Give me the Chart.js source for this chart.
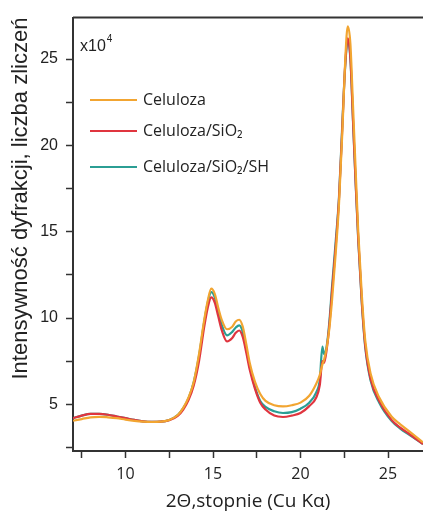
<!DOCTYPE html>
<html lang="pl">
<head>
<meta charset="utf-8">
<script src="https://cdn.jsdelivr.net/npm/chart.js@4.4.1/dist/chart.umd.min.js"></script>
<style>
  html, body { margin: 0; padding: 0; background: #fff; }
  #wrap { width: 423px; height: 513px; position: relative; }
</style>
</head>
<body>
<div id="wrap"><canvas id="xrdChart"></canvas></div>
<script>
// Kąt 2Θ (stopnie)
const katy = [
  7.0, 7.5, 8.0, 8.5, 9.0, 9.5, 10.0, 10.5, 11.0, 11.5, 12.0, 12.5, 13.0, 13.3, 13.6, 13.9,
  14.2, 14.5, 14.7, 14.9, 15.1, 15.3, 15.5, 15.8, 16.1, 16.3, 16.5, 16.7, 16.9, 17.1, 17.4,
  17.7, 18.0, 18.5, 19.0, 19.5, 20.0, 20.5, 20.9, 21.1, 21.25, 21.35, 21.5, 21.65, 21.8,
  22.0, 22.2, 22.4, 22.55, 22.7, 22.85, 23.0, 23.15, 23.3, 23.5, 23.7, 24.0, 24.5, 25.2,
  25.7, 26.2, 27.0
];

// Intensywność (x10^4)
const celuloza = [
  4.05, 4.15, 4.25, 4.28, 4.25, 4.2, 4.12, 4.05, 4.0, 3.98, 4.0, 4.1, 4.4, 4.8, 5.4, 6.3,
  7.9, 9.9, 11.0, 11.7, 11.4, 10.6, 9.9, 9.35, 9.5, 9.8, 9.9, 9.5, 8.5, 7.4, 6.3,
  5.6, 5.2, 4.95, 4.88, 4.95, 5.1, 5.5, 6.2, 6.7, 7.3, 7.6, 8.3, 9.4, 11.0,
  13.6, 16.6, 21.0, 24.8, 26.9, 25.9, 22.3, 18.6, 15.0, 11.4, 8.7, 6.8, 5.4, 4.3,
  3.85, 3.45, 2.8
];
const celulozaSiO2 = [
  4.2, 4.35, 4.45, 4.45, 4.4, 4.3, 4.2, 4.1, 4.02, 3.99, 4.0, 4.08, 4.35, 4.7, 5.25, 6.1,
  7.5, 9.5, 10.6, 11.2, 10.9, 10.1, 9.3, 8.65, 8.85, 9.15, 9.28, 8.9, 8.0, 7.0, 5.9,
  5.1, 4.7, 4.35, 4.27, 4.35, 4.5, 4.9, 5.4, 6.1, 7.5, 7.4, 8.2, 9.6, 11.5,
  14.0, 16.9, 21.3, 24.6, 26.2, 25.1, 21.5, 17.9, 14.6, 11.0, 8.4, 6.5, 5.2, 4.1,
  3.65, 3.3, 2.7
];
const celulozaSiO2SH = [
  4.2, 4.35, 4.45, 4.45, 4.4, 4.3, 4.2, 4.1, 4.02, 3.99, 4.0, 4.1, 4.4, 4.78, 5.35, 6.3,
  7.8, 9.8, 10.9, 11.5, 11.2, 10.4, 9.6, 9.0, 9.2, 9.45, 9.58, 9.2, 8.2, 7.2, 6.0,
  5.2, 4.85, 4.6, 4.5, 4.55, 4.75, 5.1, 5.7, 6.4, 8.35, 7.9, 8.4, 9.8, 11.8,
  14.3, 17.0, 21.5, 24.5, 26.1, 25.0, 21.4, 17.8, 14.5, 10.9, 8.3, 6.4, 5.1, 4.05,
  3.6, 3.25, 2.7
];

const nazwySerii = ["Celuloza", "Celuloza/SiO₂", "Celuloza/SiO₂/SH"];
const koloryserii = ["#f2a531", "#e0353f", "#2b9e94"];

// Podziałki osi
const tickiX = [7.5, 10, 12.5, 15, 17.5, 20, 22.5, 25];
const tickiY = [2.5, 5, 7.5, 10, 12.5, 15, 17.5, 20, 22.5, 25];

const FONT = "'Open Sans', 'DejaVu Sans', sans-serif";
const FONT_ARIAL = "'Liberation Sans', Arial, sans-serif";
const KOLOR_OSI = "#333";

function punkty(wartosci) {
  return katy.map((k, i) => ({ x: k, y: wartosci[i] }));
}

// Legenda i mnożnik rysowane wewnątrz wykresu
const legendaWewnatrz = {
  id: "legendaWewnatrz",
  afterDraw(chart) {
    const ctx = chart.ctx;
    const area = chart.chartArea;
    ctx.save();

    // górna krawędź ramki
    ctx.strokeStyle = KOLOR_OSI;
    ctx.lineWidth = 2;
    ctx.beginPath();
    ctx.moveTo(area.left, area.top);
    ctx.lineTo(area.right, area.top);
    ctx.stroke();

    // x10^4
    ctx.fillStyle = "#222";
    ctx.textBaseline = "middle";
    ctx.textAlign = "left";
    ctx.font = "16px " + FONT_ARIAL;
    ctx.fillText("x10", area.left + 7, 47);
    const w = ctx.measureText("x10").width;
    ctx.font = "10px " + FONT_ARIAL;
    ctx.fillText("4", area.left + 8 + w, 39);

    // wpisy legendy
    const wiersze = [100, 131, 167];
    ctx.font = "16px " + FONT;
    chart.data.datasets.forEach((ds, i) => {
      const y = wiersze[i];
      ctx.strokeStyle = ds.borderColor;
      ctx.lineWidth = 2;
      ctx.beginPath();
      ctx.moveTo(90, y);
      ctx.lineTo(137, y);
      ctx.stroke();
      ctx.fillStyle = "#222";
      ctx.fillText(ds.label, 143, y);
    });
    ctx.restore();
  }
};

const ctx = document.getElementById("xrdChart");
new Chart(ctx, {
  type: "line",
  data: {
    datasets: [celuloza, celulozaSiO2, celulozaSiO2SH].map((seria, i) => ({
      label: nazwySerii[i],
      data: punkty(seria),
      borderColor: koloryserii[i],
      backgroundColor: koloryserii[i],
      borderWidth: 2.2,
      pointRadius: 0,
      cubicInterpolationMode: "monotone",
      fill: false
    }))
  },
  options: {
    responsive: true,
    maintainAspectRatio: false,
    animation: false,
    layout: { padding: { top: 14, left: 0, right: 0, bottom: 0 } },
    plugins: {
      legend: { display: false },
      tooltip: { enabled: false }
    },
    scales: {
      x: {
        type: "linear",
        min: 7,
        max: 27,
        afterBuildTicks: (axis) => { axis.ticks = tickiX.map((v) => ({ value: v })); },
        afterFit: (axis) => { axis.height = 62; },
        ticks: {
          color: "#222",
          font: { family: FONT, size: 16 },
          padding: 7,
          maxRotation: 0,
          autoSkip: false,
          callback: (v) => (v % 5 === 0 ? String(v) : "")
        },
        grid: { drawOnChartArea: false, drawTicks: true, tickLength: 7, tickWidth: 1.5, tickColor: KOLOR_OSI },
        border: { display: true, color: KOLOR_OSI, width: 2 },
        title: {
          display: true,
          text: "2Θ,stopnie (Cu Kα)",
          color: "#222",
          font: { family: FONT, size: 19 },
          padding: { top: 0, bottom: 0 }
        }
      },
      y: {
        type: "linear",
        min: 2.3,
        max: 27.4,
        afterBuildTicks: (axis) => { axis.ticks = tickiY.map((v) => ({ value: v })); },
        afterFit: (axis) => { axis.width = 73; },
        ticks: {
          color: "#222",
          font: { family: FONT_ARIAL, size: 16 },
          padding: 8,
          autoSkip: false,
          callback: (v) => (v % 5 === 0 ? String(v) : "")
        },
        grid: { drawOnChartArea: false, drawTicks: true, tickLength: 7, tickWidth: 1.5, tickColor: KOLOR_OSI },
        border: { display: true, color: KOLOR_OSI, width: 2 },
        title: {
          display: true,
          text: "Intensywność dyfrakcji, liczba zliczeń",
          align: "end",
          color: "#222",
          font: { family: FONT_ARIAL, size: 22 },
          padding: { top: 8, bottom: 0 }
        }
      }
    }
  },
  plugins: [legendaWewnatrz]
});
</script>
</body>
</html>
